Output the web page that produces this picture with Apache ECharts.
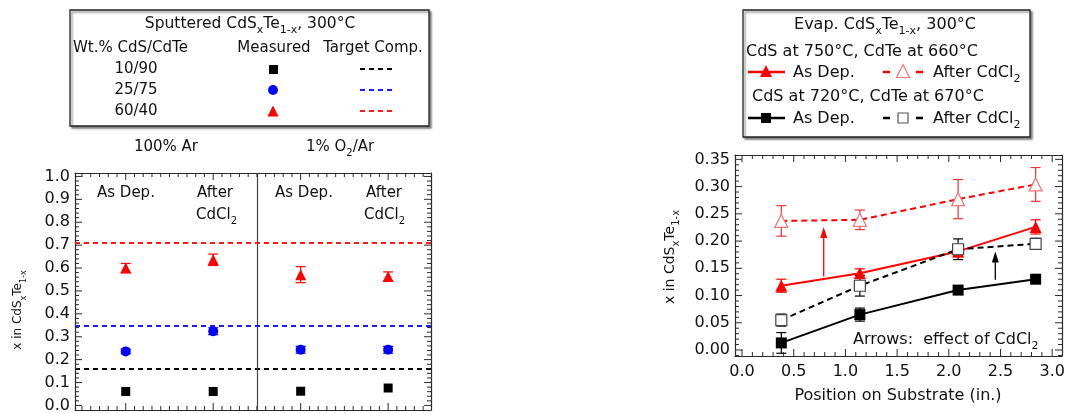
<!DOCTYPE html>
<html>
<head>
<meta charset="utf-8">
<script src="https://cdn.jsdelivr.net/npm/echarts@6/dist/echarts.min.js"></script>
<style>html,body{margin:0;padding:0;background:#fff}#c{width:1069px;height:413px}</style>
</head>
<body>
<div id="c"></div>
<script>
// ---------- Left panel data (sputtered) ----------
var leftCats = [1, 2, 3, 4]; // As Dep. (Ar), After CdCl2 (Ar), As Dep. (O2/Ar), After CdCl2 (O2/Ar)
var sq1090 = [0.061, 0.061, 0.062, 0.076];
var ci2575 = [0.236, 0.324, 0.243, 0.243];
var ci2575Err = [0.010, 0.015, 0.015, 0.015];
var tr6040 = [0.600, 0.636, 0.571, 0.563];
var tr6040Err = [0.020, 0.025, 0.035, 0.020];
var targets = [0.156, 0.355, 0.711]; // 10/90, 25/75, 60/40
var dividerX = 2.5;
var leftXTicks = [1, 2, 3, 4];
var leftYTicks = [0, 0.1, 0.2, 0.3, 0.4, 0.5, 0.6, 0.7, 0.8, 0.9, 1.0];

// ---------- Right panel data (evaporated) ----------
var pos = [0.38, 1.14, 2.09, 2.84];
var redAsDep = [0.118, 0.141, 0.181, 0.226];
var redAsDepErr = [0.012, 0.008, 0.010, 0.013];
var redAfter = [0.237, 0.239, 0.277, 0.304];
var redAfterErr = [0.028, 0.018, 0.036, 0.031];
var blkAsDep = [0.013, 0.065, 0.110, 0.130];
var blkAsDepErr = [0.019, 0.012, 0.008, 0.004];
var blkAfter = [0.055, 0.118, 0.185, 0.195];
var blkAfterErr = [0.011, 0.019, 0.019, 0.010];
var redArrow = [0.79, 0.135, 0.226];   // x, from y, to y
var blkArrow = [2.45, 0.129, 0.181];
var rightXTicks = [0, 0.5, 1.0, 1.5, 2.0, 2.5, 3.0];
var rightYTicks = [0, 0.05, 0.10, 0.15, 0.20, 0.25, 0.30, 0.35];

function steps(a, b, s) { var r = []; var n = Math.round((b - a) / s); for (var i = 0; i <= n; i++) r.push(+(a + i * s).toFixed(4)); return r; }
function tickData(minor, major) {
  return minor.map(function (v) {
    var m = major.some(function (u) { return Math.abs(u - v) < 1e-6; }) ? 1 : 0;
    return [v, m];
  });
}

var F = '"DejaVu Sans", sans-serif';
var INK = '#111';
var FRAME = '#2a2a2a';
var RED = '#ff0000';
var PINK = '#f07575';
var BLUE = '#0000ff';

function zip(xs, ys, es) { return xs.map(function (x, i) { return es ? [x, ys[i], es[i]] : [x, ys[i]]; }); }

function axis(pos, gridIndex, min, max, labels, fmt, margin) {
  return {
    type: 'value', gridIndex: gridIndex, position: pos, min: min, max: max,
    splitLine: { show: false },
    axisLine: { show: true, onZero: false, lineStyle: { color: FRAME, width: 1.2 } },
    axisTick: { show: false },
    axisLabel: labels ? { show: true, customValues: labels, formatter: fmt, color: INK, fontFamily: F, fontSize: 16, margin: margin } : { show: false }
  };
}

var lx = [0.42, 4.49], ly = [-0.02, 1.015];
var rx = [-0.068, 3.095], ry = [-0.011, 0.358];
var f1 = function (v) { return v.toFixed(1); };
var f2 = function (v) { return v.toFixed(2); };

var xAxes = [
  axis('bottom', 0, lx[0], lx[1]),
  axis('top', 0, lx[0], lx[1]),
  axis('bottom', 1, rx[0], rx[1], rightXTicks, f1, 8),
  axis('top', 1, rx[0], rx[1])
];
var yAxes = [
  axis('left', 0, ly[0], ly[1], leftYTicks, f1, 5),
  axis('right', 0, ly[0], ly[1]),
  axis('left', 1, ry[0], ry[1], rightYTicks, f2, 5),
  axis('right', 1, ry[0], ry[1])
];

// tick marks drawn inward on all four sides, positioned through the axis scale
function tickSeries(dim, xi, yi, data, mid) {
  return {
    type: 'custom', xAxisIndex: xi, yAxisIndex: yi, data: data, silent: true, z: 5,
    encode: dim === 'x' ? { x: 0 } : { y: 0 },
    renderItem: function (params, api) {
      var cs = params.coordSys;
      var v = api.value(0), len = api.value(1) ? 7 : 4;
      var st = { stroke: FRAME, lineWidth: 1 };
      if (dim === 'x') {
        var px = api.coord([v, mid])[0];
        return { type: 'group', children: [
          { type: 'line', shape: { x1: px, y1: cs.y + cs.height, x2: px, y2: cs.y + cs.height - len }, style: st },
          { type: 'line', shape: { x1: px, y1: cs.y, x2: px, y2: cs.y + len }, style: st }
        ] };
      }
      var py = api.coord([mid, v])[1];
      return { type: 'group', children: [
        { type: 'line', shape: { x1: cs.x, y1: py, x2: cs.x + len, y2: py }, style: st },
        { type: 'line', shape: { x1: cs.x + cs.width, y1: py, x2: cs.x + cs.width - len, y2: py }, style: st }
      ] };
    }
  };
}

function errSeries(data, color, xi, yi, hw, lw) {
  return {
    type: 'custom', xAxisIndex: xi, yAxisIndex: yi, data: data, silent: true, z: 1,
    encode: { x: 0, y: 1 },
    renderItem: function (params, api) {
      var x = api.value(0), y = api.value(1), e = api.value(2);
      var t = api.coord([x, y + e]), b = api.coord([x, y - e]);
      var st = { stroke: color, lineWidth: lw || 1.2 };
      return {
        type: 'group', children: [
          { type: 'line', shape: { x1: t[0], y1: t[1], x2: b[0], y2: b[1] }, style: st },
          { type: 'line', shape: { x1: t[0] - hw, y1: t[1], x2: t[0] + hw, y2: t[1] }, style: st },
          { type: 'line', shape: { x1: b[0] - hw, y1: b[1], x2: b[0] + hw, y2: b[1] }, style: st }
        ]
      };
    }
  };
}

function arrowSeries(a, color) {
  return {
    type: 'custom', xAxisIndex: 2, yAxisIndex: 2, data: [a], silent: true, z: 6,
    encode: { x: 0, y: 1 },
    renderItem: function (params, api) {
      var p0 = api.coord([api.value(0), api.value(1)]);
      var p1 = api.coord([api.value(0), api.value(2)]);
      var hl = 11, hw = 3.5;
      return { type: 'group', children: [
        { type: 'line', shape: { x1: p0[0], y1: p0[1], x2: p1[0], y2: p1[1] + hl - 1 }, style: { stroke: color, lineWidth: 1.3 } },
        { type: 'polygon', shape: { points: [[p1[0], p1[1]], [p1[0] + hw, p1[1] + hl], [p1[0] - hw, p1[1] + hl]] }, style: { fill: color } }
      ] };
    }
  };
}

var series = [
  tickSeries('x', 0, 0, tickData(steps(0.5, 4.4, 0.1), leftXTicks), 0.5),
  tickSeries('y', 0, 0, tickData(steps(0, 1.0, 0.02), leftYTicks), 2),
  tickSeries('x', 2, 2, tickData(steps(0, 3.0, 0.1), rightXTicks), 0.1),
  tickSeries('y', 2, 2, tickData(steps(-0.01, 0.35, 0.01), rightYTicks), 1.5),
  errSeries(zip(leftCats, ci2575, ci2575Err), BLUE, 0, 0, 5),
  errSeries(zip(leftCats, tr6040, tr6040Err), RED, 0, 0, 5),
  {
    type: 'scatter', xAxisIndex: 0, yAxisIndex: 0, data: zip(leftCats, sq1090), symbol: 'rect', symbolSize: 9,
    itemStyle: { color: '#000', opacity: 1 }, z: 3,
    markLine: { silent: true, symbol: 'none', animation: false, label: { show: false },
      data: [
        { yAxis: targets[0], lineStyle: { color: '#000', width: 2, type: [5, 4] } },
        { xAxis: dividerX, lineStyle: { color: '#444', width: 1.2, type: 'solid' } }
      ] }
  },
  {
    type: 'scatter', xAxisIndex: 0, yAxisIndex: 0, data: zip(leftCats, ci2575), symbol: 'circle', symbolSize: 10,
    itemStyle: { color: BLUE, opacity: 1 }, z: 3,
    markLine: { silent: true, symbol: 'none', animation: false, label: { show: false },
      lineStyle: { color: '#1a1aff', width: 2, type: [5, 4] }, data: [{ yAxis: targets[1] }] }
  },
  {
    type: 'scatter', xAxisIndex: 0, yAxisIndex: 0, data: zip(leftCats, tr6040), symbol: 'triangle', symbolSize: 11,
    itemStyle: { color: RED, opacity: 1 }, z: 3,
    markLine: { silent: true, symbol: 'none', animation: false, label: { show: false },
      lineStyle: { color: '#ff1a1a', width: 2, type: [5, 4] }, data: [{ yAxis: targets[2] }] }
  },
  // right panel
  errSeries(zip(pos, redAfter, redAfterErr), '#ee3333', 2, 2, 5),
  errSeries(zip(pos, redAsDep, redAsDepErr), RED, 2, 2, 5),
  errSeries(zip(pos, blkAsDep, blkAsDepErr), '#000', 2, 2, 5),
  errSeries(zip(pos, blkAfter, blkAfterErr), '#000', 2, 2, 5),
  {
    type: 'line', xAxisIndex: 2, yAxisIndex: 2, data: zip(pos, redAfter), symbol: 'triangle', symbolSize: 13,
    lineStyle: { color: RED, width: 2, type: [6, 4] }, itemStyle: { color: '#fff', borderColor: PINK, borderWidth: 1.2 }, z: 3
  },
  {
    type: 'line', xAxisIndex: 2, yAxisIndex: 2, data: zip(pos, redAsDep), symbol: 'triangle', symbolSize: 12,
    lineStyle: { color: RED, width: 2 }, itemStyle: { color: RED }, z: 3
  },
  {
    type: 'line', xAxisIndex: 2, yAxisIndex: 2, data: zip(pos, blkAsDep), symbol: 'rect', symbolSize: 11,
    lineStyle: { color: '#000', width: 2 }, itemStyle: { color: '#000' }, z: 3
  },
  {
    type: 'line', xAxisIndex: 2, yAxisIndex: 2, data: zip(pos, blkAfter), symbol: 'rect', symbolSize: 11,
    lineStyle: { color: '#000', width: 2, type: [6, 4] }, itemStyle: { color: '#fff', borderColor: '#444', borderWidth: 1.2 }, z: 4
  },
  arrowSeries(redArrow, RED),
  arrowSeries(blkArrow, '#000')
];

// ---------- graphic annotations ----------
function T(x, y, text, size, align, extra) {
  var el = { type: 'text', x: x, y: y, silent: true, z: 10,
    style: { text: text, font: size + 'px ' + F, fill: INK, textAlign: align || 'left', textVerticalAlign: 'middle' } };
  if (extra) Object.assign(el, extra);
  return el;
}
function R(x, y, text, size, align, extra) {
  var el = T(x, y + 2, text, size, align, extra);
  el.style.rich = {
    n: { fontSize: size, fontFamily: F, fill: INK, verticalAlign: 'bottom', padding: [0, 0, 4, 0] },
    s: { fontSize: Math.round(size * 0.68), fontFamily: F, fill: INK, verticalAlign: 'bottom' }
  };
  return el;
}
function L(x1, y1, x2, y2, color, w, dash) {
  return { type: 'line', silent: true, z: 10, shape: { x1: x1, y1: y1, x2: x2, y2: y2 },
    style: { stroke: color, lineWidth: w, lineDash: dash || null } };
}
function tri(cx, cy, s, fill, stroke) {
  return { type: 'polygon', silent: true, z: 10, shape: { points: [[cx, cy - s / 2], [cx + s / 2, cy + s / 2], [cx - s / 2, cy + s / 2]] },
    style: { fill: fill, stroke: stroke || null, lineWidth: 1.2 } };
}
function box(x, y, w, h) {
  return { type: 'rect', silent: true, z: 9, shape: { x: x, y: y, width: w, height: h },
    style: { fill: '#fff', stroke: '#222', lineWidth: 1.3, shadowBlur: 2, shadowOffsetX: 2, shadowOffsetY: 2, shadowColor: 'rgba(0,0,0,0.45)' } };
}

var graphics = [
  // left legend box
  box(70, 10, 359, 116),
  R(250, 24, '{n|Sputtered CdS}{s|x}{n|Te}{s|1-x}{n|, 300°C}', 15.5, 'center'),
  T(73, 48, 'Wt.% CdS/CdTe', 15, 'left'),
  T(274, 48, 'Measured', 15, 'center'),
  T(373, 48, 'Target Comp.', 15, 'center'),
  T(136, 69, '10/90', 15, 'center'),
  T(136, 90, '25/75', 15, 'center'),
  T(136, 111, '60/40', 15, 'center'),
  { type: 'rect', silent: true, z: 10, shape: { x: 269, y: 65, width: 9, height: 9 }, style: { fill: '#000' } },
  { type: 'circle', silent: true, z: 10, shape: { cx: 273, cy: 90, r: 5 }, style: { fill: BLUE } },
  tri(273, 111, 11, RED),
  L(360, 69, 392, 69, '#000', 2, [5, 4]),
  L(360, 90, 392, 90, '#1a1aff', 2, [5, 4]),
  L(360, 111, 392, 111, '#ff1a1a', 2, [5, 4]),
  T(166, 147, '100% Ar', 15, 'center'),
  R(340, 147, '{n|1% O}{s|2}{n|/Ar}', 15, 'center'),
  // left panel text
  T(97, 193, 'As Dep.', 15, 'left'),
  T(197, 193, 'After', 15, 'left'),
  R(196, 215, '{n|CdCl}{s|2}', 15, 'left'),
  T(275, 193, 'As Dep.', 15, 'left'),
  T(366, 193, 'After', 15, 'left'),
  R(364, 215, '{n|CdCl}{s|2}', 15, 'left'),
  R(20, 308, '{n|x in CdS}{s|x}{n|Te}{s|1-x}', 12, 'center', { rotation: Math.PI / 2 }),
  // right legend box
  box(743, 10, 287, 127),
  R(885, 25, '{n|Evap. CdS}{s|x}{n|Te}{s|1-x}{n|, 300°C}', 16, 'center'),
  T(746, 52, 'CdS at 750°C, CdTe at 660°C', 16, 'left'),
  L(748, 72, 785, 72, RED, 2.5),
  tri(766, 71, 12, RED),
  T(793, 73, 'As Dep.', 16, 'left'),
  L(883, 72, 890, 72, RED, 2.5),
  L(916, 72, 923, 72, RED, 2.5),
  tri(903, 71, 13, '#fff', PINK),
  R(933, 73, '{n|After CdCl}{s|2}', 16, 'left'),
  T(752, 97, 'CdS at 720°C, CdTe at 670°C', 16, 'left'),
  L(748, 118, 785, 118, '#000', 2.5),
  { type: 'rect', silent: true, z: 10, shape: { x: 761, y: 113, width: 10, height: 10 }, style: { fill: '#000' } },
  T(793, 119, 'As Dep.', 16, 'left'),
  L(883, 118, 890, 118, '#000', 2.5),
  L(916, 118, 923, 118, '#000', 2.5),
  { type: 'rect', silent: true, z: 10, shape: { x: 898, y: 113, width: 10, height: 10 }, style: { fill: '#fff', stroke: '#555', lineWidth: 1.2 } },
  R(933, 119, '{n|After CdCl}{s|2}', 16, 'left'),
  // right panel text
  R(853, 340, '{n|Arrows:  effect of CdCl}{s|2}', 16, 'left'),
  T(898, 396, 'Position on Substrate (in.)', 16, 'center'),
  R(672, 255, '{n|x in CdS}{s|x}{n|Te}{s|1-x}', 14, 'center', { rotation: Math.PI / 2 })
];

var chart = echarts.init(document.getElementById('c'), null, { renderer: 'canvas' });
chart.setOption({
  animation: false,
  backgroundColor: '#fff',
  grid: [
    { left: 75, top: 173, width: 356, height: 237, outerBoundsMode: 'none', containLabel: false },
    { left: 735, top: 155, width: 327, height: 201, outerBoundsMode: 'none', containLabel: false }
  ],
  xAxis: xAxes,
  yAxis: yAxes,
  series: series,
  graphic: { elements: graphics }
});
</script>
</body>
</html>
